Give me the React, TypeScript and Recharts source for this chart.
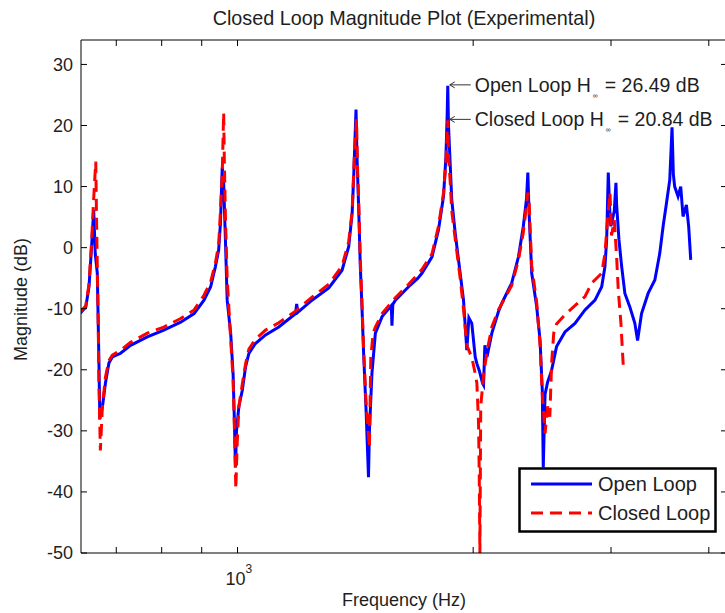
import React from 'react';
import { LineChart, Line, XAxis, YAxis, Legend, ReferenceDot } from 'recharts';

// open loop (blue) magnitude
const openFreq = [
  630, 640, 646, 651, 655, 658, 662, 665, 667, 672, 678, 685, 692, 709, 730, 767, 805, 846, 880, 906,
  924, 937, 946, 951, 956, 960, 965, 970, 980, 987, 991, 994, 997, 1004, 1014, 1024, 1034, 1054, 1086, 1129,
  1186, 1190, 1194, 1245, 1308, 1360, 1387, 1401, 1408, 1417, 1421, 1428, 1435, 1442, 1449, 1459, 1470, 1474, 1485, 1500,
  1530, 1572, 1575, 1579, 1591, 1654, 1700, 1720, 1772, 1806, 1833, 1846, 1853, 1856, 1860, 1869, 1878, 1897, 1925, 1944,
  1963, 1975, 1992, 2012, 2022, 2036, 2056, 2062, 2070, 2083, 2113, 2154, 2176, 2240, 2285, 2318, 2340, 2349, 2357, 2376,
  2411, 2435, 2451, 2458, 2471, 2490, 2519, 2556, 2620, 2698, 2779, 2862, 2919, 2947, 2962, 2976, 2991, 2999, 3029, 3044,
  3050, 3071, 3095, 3125, 3171, 3218, 3244, 3282, 3346, 3413, 3463, 3497, 3532, 3566, 3590, 3604, 3618, 3654, 3683, 3708,
  3745, 3770, 3793,
];
const openDb = [
  -10.7, -9.7, -6.4, 0.2, 6.2, -1.0, -4.2, -17.9, -28, -26.1, -22.2, -18.9, -17.9, -17.3, -16, -14.6, -13.5, -12.2, -10.8, -8.6,
  -6.4, -3.1, -0.4, 4.0, 13.1, 10.6, 1.3, -8.6, -14, -20.6, -28.8, -36, -30, -26, -23.4, -19.5, -17.3, -15.7, -14.3, -13,
  -10.8, -9.2, -10.6, -8.6, -6.6, -3.7, 0.2, 5.7, 12.3, 22.6, 15, 6.7, -3.1, -9.7, -17.3, -26.1, -37.6, -30, -20.6, -14,
  -11.3, -9.5, -12.8, -9.3, -8.6, -6.4, -5, -4.2, -1.5, 2.9, 8.4, 14.9, 22, 26.49, 20, 13.9, 7.8, 2.4, -4.2, -8.6,
  -16.8, -11.5, -12.4, -17.9, -19, -20.1, -22.2, -22.5, -16, -17.9, -14, -10.5, -9.1, -5.8, -1.5, 3.5, 8, 12.3, 6, -4.2,
  -9.7, -15.2, -23.4, -36, -24, -22, -20.1, -16.2, -13.8, -12.4, -10.2, -8.6, -6.4, -3.1, 1.3, 12.3, 5, 3.5, 6, 10.6,
  7, 1.3, -3, -7.5, -9.7, -12.4, -15.2, -10.8, -7.5, -5.3, -0.9, 3.5, 7.3, 11.1, 19.7, 12, 10, 8.4, 10, 5.1,
  7, 3.5, -2,
];

// closed loop (red dashed)
const closedFreq = [
  630, 640, 646, 651, 655, 659, 661, 662, 664, 665, 668, 672, 678, 685, 692, 709, 730, 767, 805, 846,
  880, 906, 924, 937, 946, 951, 956, 960, 962, 965, 970, 975, 980, 987, 991, 995, 999, 1004, 1014, 1024,
  1034, 1054, 1086, 1129, 1186, 1245, 1308, 1360, 1387, 1401, 1410, 1419, 1424, 1428, 1435, 1442, 1449, 1459, 1466, 1474,
  1480, 1490, 1500, 1530, 1591, 1654, 1720, 1772, 1806, 1833, 1846, 1856, 1860, 1869, 1878, 1897, 1925, 1944, 1963, 1992,
  2012, 2022, 2032, 2036, 2040, 2045, 2062, 2083, 2113, 2154, 2240, 2285, 2318, 2340, 2349, 2357, 2365, 2376, 2411, 2435,
  2451, 2471, 2490, 2506, 2519, 2535, 2556, 2620, 2698, 2779, 2835, 2919, 2947, 2970, 2991, 3005, 3029, 3050, 3065, 3089,
  3110,
];
const closedDb = [
  -10.5, -9.5, -6, 1, 8, 14.1, 1.8, -3, -13.5, -22, -33.2, -26, -21.2, -18.5, -17.6, -16.8, -15.5, -14, -13, -11.6,
  -10.2, -7.8, -5.6, -2.5, 0.5, 6, 12, 22.1, 14, 5, -5, -10, -15, -21.5, -30, -39.5, -32, -26, -22.4, -19,
  -16.6, -15, -13.5, -12.3, -10.4, -8.1, -6, -3, 1, 6, 15, 21, 12, 8, -2, -9, -16.5, -25, -29, -32.7,
  -18, -14, -13, -10.8, -8.2, -6, -3.6, -1, 3.5, 9, 14, 20.84, 15, 11, 6, 1.5, -5, -10, -16, -18,
  -20.6, -22.2, -28.8, -37, -50, -26, -21, -17, -13, -10.2, -6.2, -2, 2.5, 7, 9, 8.4, 3, -3, -9, -16,
  -24, -30.4, -26, -27.7, -19, -14, -12.5, -11, -9.5, -8, -5.8, -4.2, -1, 4.6, 9, 2, 4.5, -1.5, -7, -12.4,
  -19.3,
];

const xTicks = [700, 800, 900, 1000, 2000, 3000, 4000];
const yTicks = [-50, -40, -30, -20, -10, 0, 10, 20, 30];
const seriesNames = ['Open Loop', 'Closed Loop'];
const peakFreq = 1856;
const openPeak = 26.49;
const closedPeak = 20.84;

const openData = openFreq.map((f, i) => ({ f, db: openDb[i] }));
const closedData = closedFreq.map((f, i) => ({ f, db: closedDb[i] }));

const FONT = 'Arial, "Liberation Sans", Helvetica, sans-serif';
const INK = '#1e1e1e';
const DASH = '12 7';

const LeftTick = ({ x, y, payload }: any) => (
  <g>
    <line x1={x + 8} x2={x + 14} y1={y} y2={y} stroke="#000" />
    <text x={x} y={y} dy="0.36em" textAnchor="end" fontSize={18} fontFamily={FONT} fill={INK}>
      {payload.value}
    </text>
  </g>
);

const RightTick = ({ x, y }: any) => <line x1={x - 6} x2={x} y1={y} y2={y} stroke="#000" />;

const TopTick = ({ x, y }: any) => <line x1={x} x2={x} y1={y} y2={y + 6} stroke="#000" />;

const BottomTick = ({ x, y, payload }: any) => (
  <g>
    <line x1={x} x2={x} y1={y - 6} y2={y} stroke="#000" />
    {payload.value === 1000 && (
      <text fontFamily={FONT} fill={INK}>
        <tspan x={x + 8} y={y + 32} fontSize={18} textAnchor="end">10</tspan>
        <tspan x={x + 8} y={y + 20} fontSize={12}>3</tspan>
      </text>
    )}
  </g>
);

const TitleLabel = ({ viewBox }: any) => (
  <text x={viewBox.x + viewBox.width / 2} y={25} textAnchor="middle" fontSize={19.8} fontFamily={FONT} fill={INK}>
    Closed Loop Magnitude Plot (Experimental)
  </text>
);

const XTitle = ({ viewBox }: any) => (
  <text x={viewBox.x + viewBox.width / 2} y={viewBox.y + 53} textAnchor="middle" fontSize={18} fontFamily={FONT} fill={INK}>
    Frequency (Hz)
  </text>
);

const YTitle = ({ viewBox }: any) => {
  const cy = viewBox.y + viewBox.height / 2 + 3;
  return (
    <text x={27} y={cy} transform={`rotate(-90 27 ${cy})`} textAnchor="middle" fontSize={18} fontFamily={FONT} fill={INK}>
      Magnitude (dB)
    </text>
  );
};

const PeakNote = ({ viewBox, lead, tail }: any) => {
  const cx = viewBox.x + viewBox.width / 2;
  const cy = viewBox.y + viewBox.height / 2 - 1;
  const ax = cx + 2;
  return (
    <g>
      <line x1={ax} x2={ax + 21} y1={cy} y2={cy} stroke="#333" strokeWidth={1} />
      <polyline points={`${ax + 5},${cy - 3} ${ax},${cy} ${ax + 5},${cy + 3}`} fill="none" stroke="#333" strokeWidth={1} />
      <text x={ax + 25} y={cy + 7} fontSize={19.5} fontFamily={FONT} fill={INK}>
        {lead}
        <tspan fontSize={7} dx={2} dy={6}>∞</tspan>
        <tspan dx={7} dy={-6}>{tail}</tspan>
      </text>
    </g>
  );
};

const LegendBox = ({ payload }: any) => {
  const entries = seriesNames
    .map((name) => (payload || []).find((e: any) => e.value === name))
    .filter(Boolean);
  return (
    <svg width={199} height={66} style={{ display: 'block' }}>
      <rect x={1.5} y={1.5} width={196} height={63} fill="#fff" stroke="#000" strokeWidth={2.5} />
      {entries.map((entry: any, i: number) => {
        const y = 17 + i * 29;
        return (
          <g key={entry.value}>
            <line
              x1={13}
              x2={74}
              y1={y}
              y2={y}
              stroke={entry.color}
              strokeWidth={3}
              strokeDasharray={entry.value === 'Closed Loop' ? DASH : undefined}
            />
            <text x={80} y={y + 7} fontSize={20} fontFamily={FONT} fill={INK}>
              {entry.value}
            </text>
          </g>
        );
      })}
    </svg>
  );
};

export default function App() {
  return (
    <div style={{ position: 'fixed', left: 0, top: 0, width: 725, height: 613, overflow: 'hidden', background: '#fff' }}>
      <LineChart width={745} height={613} margin={{ top: 0, right: 0, bottom: 0, left: 0 }}>
        <XAxis
          dataKey="f"
          type="number"
          scale="log"
          domain={[631, 4220]}
          allowDataOverflow
          ticks={xTicks}
          interval={0}
          height={60}
          tickSize={0}
          tickMargin={0}
          tickLine={false}
          tick={<BottomTick />}
          axisLine={{ stroke: '#000' }}
          label={<XTitle />}
        />
        <XAxis
          xAxisId="top"
          orientation="top"
          dataKey="f"
          type="number"
          scale="log"
          domain={[631, 4220]}
          allowDataOverflow
          ticks={xTicks}
          interval={0}
          height={40}
          tickSize={0}
          tickMargin={0}
          tickLine={false}
          tick={<TopTick />}
          axisLine={{ stroke: '#000' }}
          label={<TitleLabel />}
        />
        <YAxis
          type="number"
          domain={[-50, 34]}
          allowDataOverflow
          ticks={yTicks}
          interval={0}
          width={81}
          tickSize={0}
          tickMargin={8}
          tickLine={false}
          tick={<LeftTick />}
          axisLine={{ stroke: '#000' }}
          label={<YTitle />}
        />
        <YAxis
          yAxisId="right"
          orientation="right"
          type="number"
          domain={[-50, 34]}
          allowDataOverflow
          ticks={yTicks}
          interval={0}
          width={18}
          tickSize={0}
          tickMargin={0}
          tickLine={false}
          tick={<RightTick />}
          axisLine={{ stroke: '#000' }}
        />
        <Line
          data={openData}
          dataKey="db"
          name={seriesNames[0]}
          type="linear"
          stroke="#0000ff"
          strokeWidth={3}
          dot={false}
          activeDot={false}
          isAnimationActive={false}
        />
        <Line
          data={closedData}
          dataKey="db"
          name={seriesNames[1]}
          type="linear"
          stroke="#ff0000"
          strokeWidth={3}
          strokeDasharray={DASH}
          dot={false}
          activeDot={false}
          isAnimationActive={false}
        />
        <ReferenceDot
          x={peakFreq}
          y={openPeak}
          r={1}
          fill="none"
          stroke="none"
          label={<PeakNote lead="Open Loop H" tail="= 26.49 dB" />}
        />
        <ReferenceDot
          x={peakFreq}
          y={closedPeak}
          r={1}
          fill="none"
          stroke="none"
          label={<PeakNote lead="Closed Loop H" tail="= 20.84 dB" />}
        />
        <Legend
          layout="vertical"
          align="center"
          verticalAlign="middle"
          content={<LegendBox />}
          wrapperStyle={{ position: 'absolute', left: 518, top: 467, width: 199, height: 66 }}
        />
      </LineChart>
    </div>
  );
}
